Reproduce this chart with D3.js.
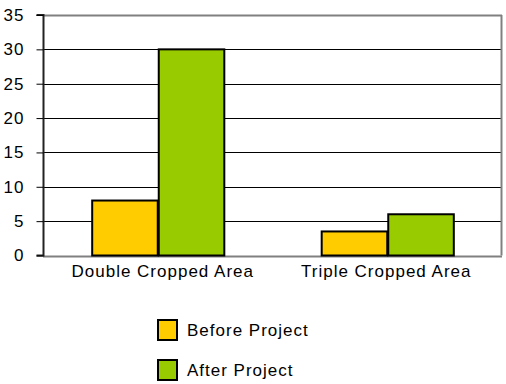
<!DOCTYPE html>
<html>
<head>
<meta charset="utf-8">
<script src="https://cdn.jsdelivr.net/npm/d3@7"></script>
<style>
  html, body { margin: 0; padding: 0; background: #fff; }
  svg { display: block; font-family: "Liberation Sans", Arial, sans-serif; }
  text { letter-spacing: 1px; }
</style>
</head>
<body>
<svg id="chart" width="506" height="384"></svg>
<script>
const categories = ["Double Cropped Area", "Triple Cropped Area"];
const seriesNames = ["Before Project", "After Project"];
const beforeProject = [8, 3.5];
const afterProject = [30, 6];
const yTicks = [0, 5, 10, 15, 20, 25, 30, 35];
const colors = ["#FFCC00", "#99CC00"];

const svg = d3.select("#chart");
const margin = { left: 43, right: 4, top: 15, bottom: 129 };
const W = 506, H = 384;
const x0 = margin.left, x1 = W - margin.right;
const yTop = margin.top, yBot = H - margin.bottom + 0.5;
const FS = 17;
const labelShift = [5, -1];

const x = d3.scaleBand().domain(categories).range([x0, x1]).paddingInner(0).paddingOuter(0);
const y = d3.scaleLinear().domain([0, 35]).range([yBot, yTop]);
const groupW = x.bandwidth() * 0.58;
const xs = d3.scaleBand().domain(seriesNames).range([0, groupW]).padding(0);

// gridlines
svg.append("g").selectAll("line").data(yTicks.filter(t => t > 0 && t < 35)).join("line")
  .attr("x1", x0).attr("x2", x1)
  .attr("y1", d => Math.round(y(d)) + 0.5).attr("y2", d => Math.round(y(d)) + 0.5)
  .attr("stroke", "#000").attr("stroke-width", 1);
// top line
svg.append("line").attr("x1", x0).attr("x2", x1)
  .attr("y1", Math.round(y(35)) + 0.5).attr("y2", Math.round(y(35)) + 0.5)
  .attr("stroke", "#808080").attr("stroke-width", 2);
// right border
svg.append("line").attr("x1", x1 - 0.5).attr("x2", x1 - 0.5)
  .attr("y1", y(35)).attr("y2", y(0))
  .attr("stroke", "#808080").attr("stroke-width", 2);
// bottom axis
svg.append("line").attr("x1", x0).attr("x2", x1)
  .attr("y1", Math.round(y(0)) + 0.5).attr("y2", Math.round(y(0)) + 0.5)
  .attr("stroke", "#808080").attr("stroke-width", 2);

// bars
const data = categories.map((c, i) => ({ c, vals: [beforeProject[i], afterProject[i]] }));
const groups = svg.append("g").selectAll("g").data(data).join("g")
  .attr("transform", d => `translate(${x(d.c) + (x.bandwidth() - groupW) / 2},0)`);
groups.selectAll("rect").data(d => d.vals.map((v, j) => ({ v, s: seriesNames[j], j }))).join("rect")
  .attr("x", d => xs(d.s) + 1)
  .attr("width", xs.bandwidth() - 1)
  .attr("y", d => y(d.v))
  .attr("height", d => y(0) - y(d.v))
  .attr("fill", d => colors[d.j])
  .attr("stroke", "#000").attr("stroke-width", 2);

// y axis
const yAxis = d3.axisLeft(y).tickValues(yTicks).tickSize(7).tickPadding(12);
const ga = svg.append("g").attr("transform", `translate(${x0 + 0.5},0)`).call(yAxis);
ga.select(".domain").attr("stroke", "#222").attr("stroke-width", 2).attr("d", `M-7,${yTop}H0V${yBot}H-7`);
ga.selectAll(".tick line").attr("stroke", "#000");
ga.selectAll("text").attr("font-size", FS).attr("fill", "#000")
  .attr("font-family", "'Liberation Sans', Arial, sans-serif");

// x labels
svg.append("g").selectAll("text").data(categories).join("text")
  .attr("x", (d, i) => x(d) + x.bandwidth() / 2 + labelShift[i])
  .attr("y", 277)
  .attr("text-anchor", "middle")
  .attr("font-size", FS)
  .text(d => d);

// legend
const lg = svg.append("g").selectAll("g").data(seriesNames).join("g")
  .attr("transform", (d, i) => `translate(158,${320 + i * 40})`);
lg.append("rect").attr("width", 19).attr("height", 20)
  .attr("fill", (d, i) => colors[i]).attr("stroke", "#000").attr("stroke-width", 2);
lg.append("text").attr("x", 29).attr("y", 16).attr("font-size", FS)
  .attr("letter-spacing", "0.6px").text(d => d);
</script>
</body>
</html>
